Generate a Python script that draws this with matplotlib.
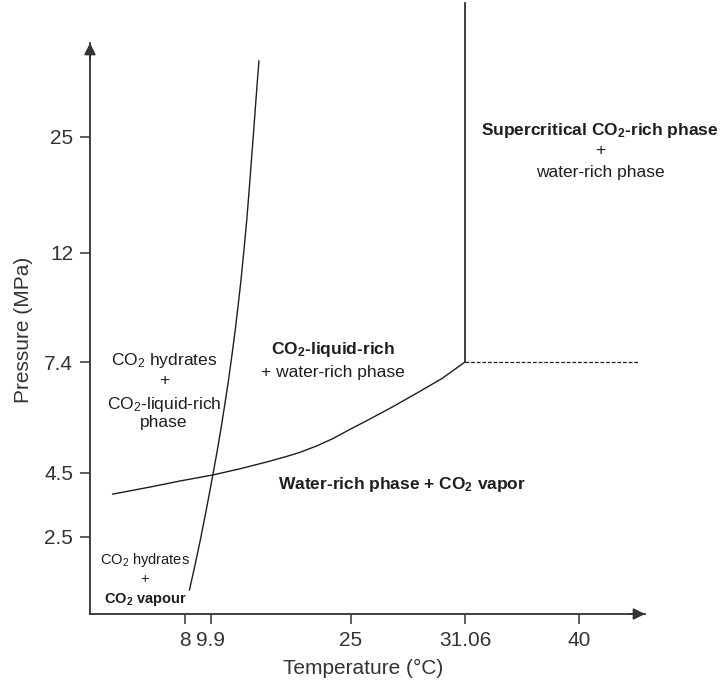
import numpy as np
import matplotlib
matplotlib.use("Agg")
import matplotlib.pyplot as plt
from matplotlib.scale import FuncScale

plt.rcParams["font.family"] = ["Liberation Sans", "DejaVu Sans"]
plt.rcParams["mathtext.fontset"] = "custom"
plt.rcParams["mathtext.default"] = "regular"

# tick values of the (non-linear) phase diagram axes
temp_ticks = [8, 9.9, 25, 31.06, 40]
temp_tick_labels = ["8", "9.9", "25", "31.06", "40"]
pres_ticks = [2.5, 4.5, 7.4, 12, 25]
pres_tick_labels = ["2.5", "4.5", "7.4", "12", "25"]

# hydrate equilibrium curve (T in degC, P in MPa)
hyd_T = [8.33, 8.74, 9.13, 9.50, 9.78, 10.15, 10.58, 10.98, 11.41, 11.82, 12.19,
         12.54, 12.86, 13.16, 13.48, 13.78, 14.04, 14.26, 14.49, 14.69, 14.89, 15.09]
hyd_P = [0.78, 1.59, 2.40, 3.19, 3.81, 4.47, 5.05, 5.62, 6.28, 6.93, 7.70,
         8.75, 9.81, 10.86, 12.34, 15.70, 19.06, 22.09, 25.22, 28.02, 30.81, 33.49]

# CO2 vapour / liquid boundary up to the critical point
vl_T = [2.67, 5.41, 7.63, 10.15, 13.05, 15.96, 17.90, 19.51, 21.34, 23.06,
        24.89, 25.85, 27.18, 28.51, 29.84, 31.06]
vl_P = [3.84, 4.06, 4.25, 4.44, 4.61, 4.79, 4.92, 5.04, 5.21, 5.40,
        5.64, 5.87, 6.22, 6.59, 6.97, 7.4]

crit_T, crit_P = 31.06, 7.4

# axis scale anchors: value -> screen offset (the drawing is not to scale)
x_anchor_val = [1, 8, 9.9, 25, 31.06, 40, 45]
x_anchor_pos = [0, 95, 120.7, 261, 375, 489, 555]
y_anchor_val = [0, 2.5, 4.5, 7.4, 12, 25, 35.5, 50]
y_anchor_pos = [0, 77, 141, 252, 361, 477, 571, 700]

W, H = 723, 680
ink = "#1e1e1e"
axc = "#333333"

fig = plt.figure(figsize=(W / 100, H / 100), dpi=100)
ax = fig.add_axes([90 / W, 1 - 614 / H, 555 / W, 571 / H])

ax.set_xscale(FuncScale(ax, (lambda v: np.interp(v, x_anchor_val, x_anchor_pos),
                             lambda u: np.interp(u, x_anchor_pos, x_anchor_val))))
ax.set_yscale(FuncScale(ax, (lambda v: np.interp(v, y_anchor_val, y_anchor_pos),
                             lambda u: np.interp(u, y_anchor_pos, y_anchor_val))))
ax.set_xlim(1, 45)
ax.set_ylim(0, 35.5)

ax.plot(hyd_T, hyd_P, color=ink, linewidth=1.0)
ax.plot(vl_T, vl_P, color=ink, linewidth=1.0)
ax.plot([crit_T, crit_T], [crit_P, 40], color=ink, linewidth=1.2, clip_on=False)
ax.plot([crit_T, 44.5], [crit_P, crit_P], color=ink, linewidth=0.9, linestyle=(0, (3, 1.5)))

for side in ["top", "right"]:
    ax.spines[side].set_visible(False)
for side in ["left", "bottom"]:
    ax.spines[side].set_color(axc)
    ax.spines[side].set_linewidth(1.3)

ax.annotate("", xy=(0, 1), xytext=(0, 0.97), xycoords="axes fraction",
            arrowprops=dict(arrowstyle="-|>", color=axc, lw=1.3, mutation_scale=17,
                            shrinkA=0, shrinkB=0))
ax.annotate("", xy=(1, 0), xytext=(0.97, 0), xycoords="axes fraction",
            arrowprops=dict(arrowstyle="-|>", color=axc, lw=1.3, mutation_scale=17,
                            shrinkA=0, shrinkB=0))

ax.set_xticks(temp_ticks)
ax.set_xticklabels(temp_tick_labels)
ax.set_yticks(pres_ticks)
ax.set_yticklabels(pres_tick_labels)
ax.minorticks_off()
ax.tick_params(axis="both", direction="out", length=7, width=1.1, color=axc,
               labelsize=15, labelcolor=axc)
ax.tick_params(axis="x", pad=5)
ax.tick_params(axis="y", pad=5)

fig.text(363 / W, 1 - 668 / H, "Temperature (°C)", ha="center", va="center",
         fontsize=15, color=axc)
fig.text(24 / W, 1 - 330 / H, "Pressure (MPa)", ha="center", va="center",
         fontsize=15, color=axc, rotation=90)


def block(x, lines, size):
    for txt, y, bold in lines:
        fig.text(x / W, 1 - y / H, txt, ha="center", va="center", fontsize=size,
                 fontweight="bold" if bold else "normal", color=ink)


block(600, [("Supercritical CO$_2$-rich phase", 131, True),
            ("+", 151, False),
            ("water-rich phase", 173, False)], 12.5)
block(333, [("CO$_2$-liquid-rich", 350, True),
            ("+ water-rich phase", 372, False)], 12.5)
block(402, [("Water-rich phase + CO$_2$ vapor", 485, True)], 12.5)
block(164, [("CO$_2$ hydrates", 361, False),
            ("+", 380, False),
            ("CO$_2$-liquid-rich", 404, False),
            ("phase", 423, False)], 12.5)
block(145, [("CO$_2$ hydrates", 560, False),
            ("+", 579, False),
            ("CO$_2$ vapour", 599, True)], 10.5)

fig.savefig("out.png", dpi=100)
